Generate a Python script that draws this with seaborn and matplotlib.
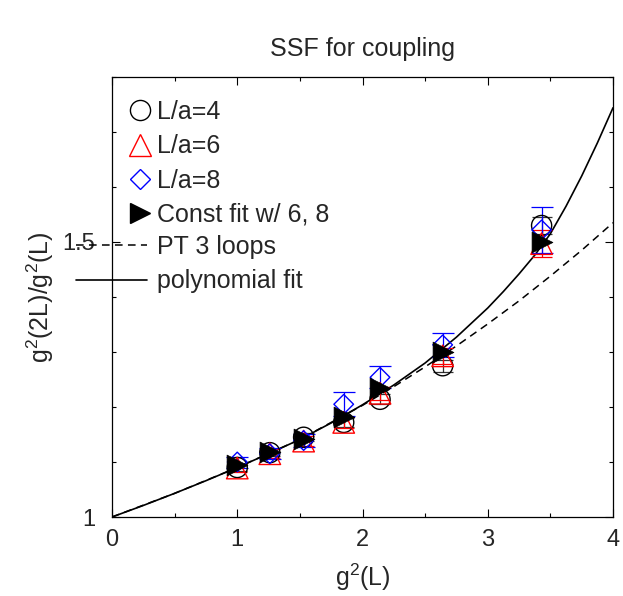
import matplotlib
matplotlib.use("Agg")
import matplotlib.pyplot as plt
from matplotlib.lines import Line2D
from matplotlib.ticker import MultipleLocator, FixedLocator
import seaborn as sns
import numpy as np

# ---- data ----
g2 = [1.00, 1.26, 1.53, 1.85, 2.14, 2.64, 3.43]
ssf_L4 = [1.090, 1.117, 1.145, 1.172, 1.214, 1.275, 1.530]
err_L4 = [0.006, 0.006, 0.007, 0.008, 0.009, 0.011, 0.016]
ssf_L6 = [1.089, 1.115, 1.138, 1.172, 1.225, 1.293, 1.497]
err_L6 = [0.008, 0.008, 0.009, 0.010, 0.012, 0.015, 0.025]
ssf_L8 = [1.100, 1.115, 1.139, 1.205, 1.254, 1.313, 1.522]
err_L8 = [0.010, 0.010, 0.012, 0.022, 0.020, 0.022, 0.042]
ssf_fit = [1.094, 1.118, 1.141, 1.182, 1.235, 1.300, 1.500]

poly_x = [0.0, 0.25, 0.5, 0.75, 1.0, 1.25, 1.5, 1.75, 2.0, 2.25, 2.5, 2.75,
          3.0, 3.125, 3.25, 3.375, 3.5, 3.625, 3.75, 3.875, 4.0]
poly_y = [1.000, 1.021, 1.043, 1.066, 1.090, 1.115, 1.141, 1.171, 1.204, 1.240,
          1.280, 1.327, 1.380, 1.410, 1.442, 1.476, 1.515, 1.565, 1.620, 1.680, 1.744]
pt_x = [0.0, 0.5, 1.0, 1.5, 2.0, 2.25, 2.5, 2.75, 3.0, 3.25, 3.5, 3.75, 4.0]
pt_y = [1.000, 1.043, 1.090, 1.141, 1.203, 1.237, 1.273, 1.311, 1.351, 1.393,
        1.438, 1.485, 1.535]

labels = ["L/a=4", "L/a=6", "L/a=8", "Const fit w/ 6, 8", "PT 3 loops", "polynomial fit"]
title = "SSF for coupling"
xlabel = "g$^2$(L)"
ylabel = "g$^2$(2L)/g$^2$(L)"

# ---- style ----
sns.set_style("ticks")
plt.rcParams["font.family"] = ["Liberation Sans", "DejaVu Sans"]
plt.rcParams["mathtext.default"] = "regular"

W, H = 623, 596
fig = plt.figure(figsize=(W / 100, H / 100), dpi=100)
ax = fig.add_axes([112 / W, 1 - 517 / H, (613 - 112) / W, (517 - 77) / H])

# curves
sns.lineplot(x=pt_x, y=pt_y, ax=ax, color="black", lw=1.1,
             linestyle=(0, (5, 3.5)), zorder=2)
sns.lineplot(x=poly_x, y=poly_y, ax=ax, color="black", lw=1.2, zorder=2)

# error bars
ax.errorbar(g2, ssf_L4, yerr=err_L4, fmt="none", ecolor="black", elinewidth=0.9,
            capsize=7, capthick=0.9, zorder=3, alpha=0.8)
ax.errorbar(g2, ssf_L6, yerr=err_L6, fmt="none", ecolor="red", elinewidth=0.9,
            capsize=7, capthick=0.9, zorder=3)
ax.errorbar(g2, ssf_L8, yerr=err_L8, fmt="none", ecolor="blue", elinewidth=0.9,
            capsize=8, capthick=0.9, zorder=3)

# markers
sns.scatterplot(x=g2, y=ssf_L4, ax=ax, marker="o", s=14.5 ** 2, facecolor="none",
                edgecolor="black", linewidth=1.0, zorder=4)
sns.scatterplot(x=g2, y=ssf_L6, ax=ax, marker="^", s=15.5 ** 2, facecolor="none",
                edgecolor="red", linewidth=1.0, zorder=4)
sns.scatterplot(x=g2, y=ssf_L8, ax=ax, marker="D", s=10 ** 2, facecolor="none",
                edgecolor="blue", linewidth=1.0, zorder=4)
sns.scatterplot(x=g2, y=ssf_fit, ax=ax, marker=">", s=15 ** 2, color="black",
                edgecolor="black", linewidth=0.5, zorder=5)

ax.set_xlim(0, 4)
ax.set_ylim(1, 1.8)
ax.xaxis.set_major_locator(MultipleLocator(1))
ax.xaxis.set_minor_locator(MultipleLocator(0.5))
ax.yaxis.set_major_locator(FixedLocator([1.0, 1.5]))
ax.yaxis.set_minor_locator(MultipleLocator(0.1))
ax.set_yticklabels(["1", "1.5"])

for s in ax.spines.values():
    s.set_visible(True)
    s.set_linewidth(0.9)
    s.set_color("black")
ax.tick_params(which="both", direction="in", top=True, right=True,
               color="black", width=0.8)
ax.tick_params(which="major", length=5.5)
ax.tick_params(which="minor", length=3)
ax.tick_params(axis="x", which="major", labelsize=17, pad=9)
ax.tick_params(axis="y", which="major", labelsize=17, pad=12)

ax.set_xlabel(xlabel, fontsize=18, labelpad=7)
ax.set_ylabel(ylabel, fontsize=18, labelpad=5)
ax.set_title(title, fontsize=18, pad=15)

# legends
fs = 18
em = fs * 100 / 72
mk = [
    Line2D([], [], ls="none", marker="o", ms=14.5, mfc="none", mec="black", mew=1.0),
    Line2D([], [], ls="none", marker="^", ms=15.5, mfc="none", mec="red", mew=1.0),
    Line2D([], [], ls="none", marker="D", ms=10, mfc="none", mec="blue", mew=1.0),
    Line2D([], [], ls="none", marker=">", ms=15, mfc="black", mec="black"),
]
ln = [
    Line2D([], [], color="black", lw=1.1, ls=(0, (5, 3.5))),
    Line2D([], [], color="black", lw=1.2),
]
hl1 = 0.9
x1 = 140 - hl1 * em / 2
leg1 = ax.legend(mk, labels[:4], loc="upper left", frameon=False, fontsize=fs,
                 bbox_to_anchor=(x1 / W, 1 - 100 / H), bbox_transform=fig.transFigure,
                 borderpad=0, borderaxespad=0, handlelength=hl1,
                 handletextpad=(157 - 140 - hl1 * em / 2) / em, labelspacing=0.41)
ax.add_artist(leg1)
hl2 = (147 - 76) / em
leg2 = ax.legend(ln, labels[4:], loc="upper left", frameon=False, fontsize=fs,
                 bbox_to_anchor=(76 / W, 1 - 235 / H), bbox_transform=fig.transFigure,
                 borderpad=0, borderaxespad=0, handlelength=hl2,
                 handletextpad=(157 - 147) / em, labelspacing=0.41)

fig.savefig("out.png", dpi=100)
